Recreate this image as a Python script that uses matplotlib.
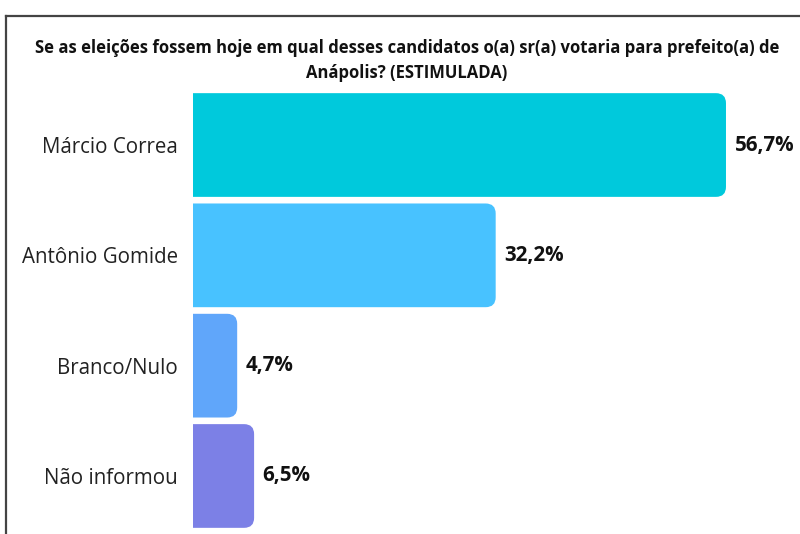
import numpy as np
import matplotlib.pyplot as plt
from matplotlib.patches import FancyBboxPatch
from matplotlib.lines import Line2D

plt.rcParams['font.family'] = ['Open Sans', 'DejaVu Sans']

categories = ['Márcio Correa', 'Antônio Gomide', 'Branco/Nulo', 'Não informou']
values = [56.7, 32.2, 4.7, 6.5]
value_labels = ['56,7%', '32,2%', '4,7%', '6,5%']
colors = ['#00C9DC', '#48C2FF', '#60A6FA', '#7C80E6']

title_1 = 'Se as eleições fossem hoje em qual desses candidatos o(a) sr(a) votaria para prefeito(a) de'
title_2 = 'Anápolis? (ESTIMULADA)'

fig = plt.figure(figsize=(8, 5.34), dpi=100)
ax = fig.add_axes([193 / 800, 0, 1 - 193 / 800, 1 - 88 / 534])

y = np.arange(len(categories))
bar_h = 0.94
bars = ax.barh(y, values, height=bar_h, color=colors)

ax.set_xlim(0, 607 / 9.4)
ax.set_ylim(3 + 58 / 110.3, -57 / 110.3)

# swap plain bars for ones rounded on the right; left end hangs past the axes and gets clipped
rx = 10 / 9.4
ry = 10 / 110.3
for b, c in zip(bars, colors):
    x0, y0 = b.get_x(), b.get_y()
    w, h = b.get_width(), b.get_height()
    b.set_visible(False)
    ax.add_patch(FancyBboxPatch((x0 - 2 * rx, y0), w + 2 * rx, h,
                                boxstyle=f'round,pad=0,rounding_size={rx}',
                                mutation_aspect=ry / rx, fc=c, ec='none'))

for yi, v, lab in zip(y, values, value_labels):
    ax.text(v + 0.9, yi, lab, va='center', ha='left', fontsize=14.8,
            fontweight='bold', color='#111111')

ax.set_yticks(y)
ax.set_yticklabels(categories, fontsize=14.8, color='#222222')
ax.tick_params(axis='y', length=0, pad=11)
ax.set_xticks([])
for s in ax.spines.values():
    s.set_visible(False)

fig.text(407 / 800, 1 - 48 / 534, title_1, ha='center', va='center',
         fontsize=12, fontweight='bold', color='#111111')
fig.text(407 / 800, 1 - 73 / 534, title_2, ha='center', va='center',
         fontsize=12, fontweight='bold', color='#111111')

# frame lines at top and left
fig.add_artist(Line2D([6 / 800, 1.0], [1 - 16 / 534] * 2, color='#444444', lw=1.6))
fig.add_artist(Line2D([6 / 800] * 2, [0, 1 - 16 / 534], color='#444444', lw=1.6))

fig.savefig('out.png', dpi=100, facecolor='white')
